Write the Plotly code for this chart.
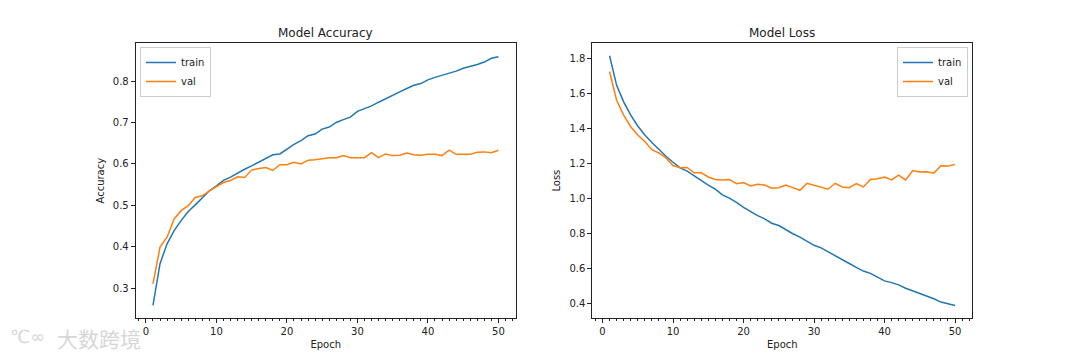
import plotly.graph_objects as go

epochs = list(range(1, 51))

acc_train = [0.258, 0.359, 0.407, 0.439, 0.463, 0.485, 0.501, 0.519, 0.535, 0.547,
             0.560, 0.568, 0.578, 0.587, 0.595, 0.604, 0.611, 0.622, 0.624, 0.636,
             0.647, 0.656, 0.668, 0.672, 0.684, 0.689, 0.700, 0.707, 0.713, 0.727,
             0.733, 0.740, 0.749, 0.758, 0.766, 0.774, 0.782, 0.790, 0.794, 0.803,
             0.809, 0.814, 0.819, 0.824, 0.831, 0.835, 0.840, 0.846, 0.855, 0.859]
acc_val = [0.310, 0.399, 0.423, 0.467, 0.487, 0.499, 0.519, 0.523, 0.535, 0.546,
           0.555, 0.560, 0.569, 0.567, 0.585, 0.589, 0.591, 0.584, 0.598, 0.598,
           0.604, 0.600, 0.609, 0.610, 0.613, 0.615, 0.615, 0.620, 0.615, 0.615,
           0.615, 0.627, 0.615, 0.624, 0.620, 0.621, 0.626, 0.622, 0.621, 0.623,
           0.623, 0.620, 0.633, 0.623, 0.623, 0.623, 0.628, 0.629, 0.627, 0.633]

loss_train = [1.815, 1.646, 1.552, 1.476, 1.414, 1.363, 1.320, 1.279, 1.241, 1.207,
              1.175, 1.156, 1.128, 1.100, 1.077, 1.053, 1.021, 1.002, 0.978, 0.949,
              0.925, 0.902, 0.884, 0.859, 0.846, 0.821, 0.799, 0.780, 0.756, 0.733,
              0.718, 0.695, 0.671, 0.652, 0.629, 0.607, 0.586, 0.573, 0.549, 0.530,
              0.520, 0.507, 0.488, 0.473, 0.460, 0.441, 0.428, 0.409, 0.398, 0.389]
loss_val = [1.725, 1.561, 1.476, 1.410, 1.363, 1.326, 1.279, 1.260, 1.232, 1.188,
            1.175, 1.177, 1.147, 1.147, 1.123, 1.109, 1.106, 1.109, 1.085, 1.091,
            1.072, 1.081, 1.077, 1.059, 1.062, 1.077, 1.062, 1.047, 1.087, 1.076,
            1.068, 1.053, 1.087, 1.066, 1.062, 1.085, 1.066, 1.109, 1.113, 1.123,
            1.106, 1.134, 1.106, 1.160, 1.151, 1.153, 1.145, 1.187, 1.185, 1.194]

series_names = ["train", "val"]
titles = ["Model Accuracy", "Model Loss"]
y_titles = ["Accuracy", "Loss"]
x_title = "Epoch"

BLUE = "#1f77b4"
ORANGE = "#ff7f0e"
FONT = "DejaVu Sans"

fig = go.Figure()
fig.add_trace(go.Scatter(x=epochs, y=acc_train, mode="lines", name=series_names[0],
                         line=dict(color=BLUE, width=1.5), xaxis="x", yaxis="y", legend="legend"))
fig.add_trace(go.Scatter(x=epochs, y=acc_val, mode="lines", name=series_names[1],
                         line=dict(color=ORANGE, width=1.5), xaxis="x", yaxis="y", legend="legend"))
fig.add_trace(go.Scatter(x=epochs, y=loss_train, mode="lines", name=series_names[0],
                         line=dict(color=BLUE, width=1.5), xaxis="x2", yaxis="y2", legend="legend2"))
fig.add_trace(go.Scatter(x=epochs, y=loss_val, mode="lines", name=series_names[1],
                         line=dict(color=ORANGE, width=1.5), xaxis="x2", yaxis="y2", legend="legend2"))

W, H = 1080, 360
xd1 = [135.7 / W, 515.7 / W]
xd2 = [592.3 / W, 972.3 / W]
yd = [1 - 318 / H, 1 - 43.3 / H]

axis_common = dict(showline=True, linecolor="#222", linewidth=1, mirror=True,
                   ticks="outside", ticklen=4, tickwidth=1, tickcolor="#222",
                   showgrid=False, zeroline=False,
                   tickfont=dict(family=FONT, size=10, color="#222"))
xaxis_common = dict(axis_common, tickvals=[0, 10, 20, 30, 40, 50],
                    minor=dict(ticks="outside", ticklen=2, dtick=1, tick0=0, tickcolor="#222", showgrid=False),
                    title=dict(text=x_title, font=dict(family=FONT, size=10, color="#222"), standoff=4))

legend_common = dict(yanchor="top", bgcolor="rgba(255,255,255,0.8)", bordercolor="#cccccc",
                     borderwidth=1, font=dict(family=FONT, size=10, color="#222"),
                     tracegroupgap=0, itemwidth=30)

fig.update_layout(
    width=W, height=H,
    margin=dict(l=0, r=0, t=0, b=0),
    paper_bgcolor="white", plot_bgcolor="white",
    font=dict(family=FONT, size=10, color="#222"),
    xaxis=dict(xaxis_common, domain=xd1, range=[-1.45, 52.45], anchor="y"),
    yaxis=dict(axis_common, domain=yd, range=[0.2277, 0.8913], dtick=0.1, tickformat=".1f", anchor="x",
               title=dict(text=y_titles[0], font=dict(family=FONT, size=10, color="#222"), standoff=6)),
    xaxis2=dict(xaxis_common, domain=xd2, range=[-1.45, 52.45], anchor="y2"),
    yaxis2=dict(axis_common, domain=yd, range=[0.318, 1.886], dtick=0.2, tickformat=".1f", anchor="x2",
                title=dict(text=y_titles[1], font=dict(family=FONT, size=10, color="#222"), standoff=6)),
    legend=dict(legend_common, x=140 / W, y=1 - 47 / H, xanchor="left"),
    legend2=dict(legend_common, x=968 / W, y=1 - 47 / H, xanchor="right"),
    showlegend=True,
    annotations=[
        dict(text=titles[0], x=(xd1[0] + xd1[1]) / 2, y=1 - 33 / H, xref="paper", yref="paper",
             showarrow=False, font=dict(family=FONT, size=12, color="#222"), xanchor="center", yanchor="middle"),
        dict(text=titles[1], x=(xd2[0] + xd2[1]) / 2, y=1 - 33 / H, xref="paper", yref="paper",
             showarrow=False, font=dict(family=FONT, size=12, color="#222"), xanchor="center", yanchor="middle"),
        dict(text="大数跨境", x=55 / W, y=1 - 338 / H, xref="paper", yref="paper",
             showarrow=False, font=dict(family="Noto Sans CJK SC", size=21, color="#d6d6d6"),
             xanchor="left", yanchor="middle"),
        dict(text="℃∞", x=8 / W, y=1 - 336 / H, xref="paper", yref="paper",
             showarrow=False, font=dict(family="DejaVu Sans", size=18, color="#d6d6d6"),
             xanchor="left", yanchor="middle"),
    ],
)

fig.write_html("out.html",
               config={"displayModeBar": False},
               post_script="document.body.style.margin='0';document.body.style.overflow='hidden';")
